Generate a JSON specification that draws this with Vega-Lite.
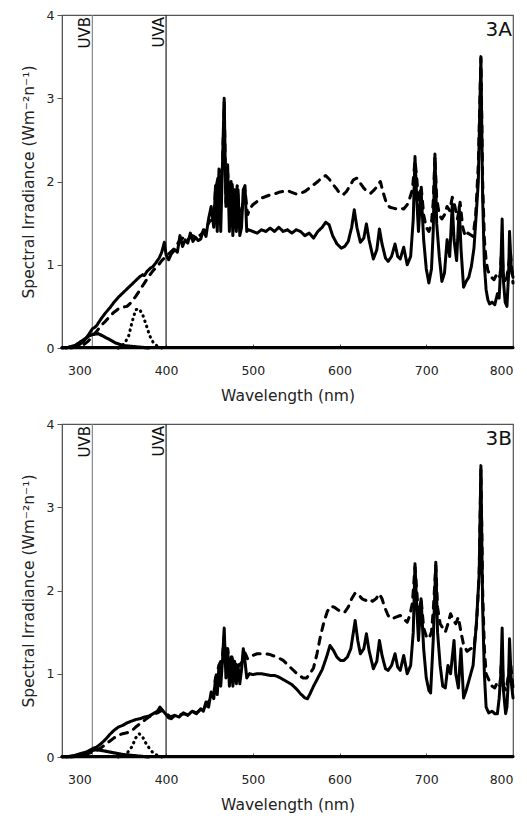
{
  "$schema": "https://vega.github.io/schema/vega-lite/v6.json",
  "padding": {"left": 20, "top": 8, "right": 8, "bottom": 2},
  "spacing": 12,
  "config": {
    "font": "DejaVu Sans",
    "view": {"stroke": "#555", "strokeWidth": 1.2},
    "axis": {"grid": false, "labelFont": "DejaVu Sans", "titleFont": "DejaVu Sans", "labelFontSize": 12.5, "titleFontSize": 15.5, "titleFontWeight": "normal", "labelColor": "#222", "titleColor": "#222", "domainColor": "#555", "tickColor": "#555"}
  },
  "datasets": {
    "A": [
      {"s":"solid","x":280,"y":0},{"s":"solid","x":290,"y":0.01},{"s":"solid","x":300,"y":0.04},{"s":"solid","x":305,"y":0.08},{"s":"solid","x":310,"y":0.15},{"s":"solid","x":315,"y":0.23},{"s":"solid","x":318,"y":0.25},{"s":"solid","x":320,"y":0.27},{"s":"solid","x":325,"y":0.35},{"s":"solid","x":330,"y":0.42},{"s":"solid","x":335,"y":0.48},{"s":"solid","x":340,"y":0.55},{"s":"solid","x":345,"y":0.61},{"s":"solid","x":350,"y":0.66},{"s":"solid","x":355,"y":0.71},{"s":"solid","x":360,"y":0.76},{"s":"solid","x":365,"y":0.81},{"s":"solid","x":370,"y":0.86},{"s":"solid","x":373,"y":0.88},{"s":"solid","x":375,"y":0.87},{"s":"solid","x":378,"y":0.92},{"s":"solid","x":382,"y":0.96},{"s":"solid","x":385,"y":0.98},{"s":"solid","x":388,"y":1.02},{"s":"solid","x":392,"y":1.08},{"s":"solid","x":395,"y":1.15},{"s":"solid","x":398,"y":1.27},{"s":"solid","x":400,"y":1.12},{"s":"solid","x":403,"y":1.06},{"s":"solid","x":406,"y":1.13},{"s":"solid","x":410,"y":1.18},{"s":"solid","x":413,"y":1.15},{"s":"solid","x":416,"y":1.35},{"s":"solid","x":419,"y":1.22},{"s":"solid","x":422,"y":1.30},{"s":"solid","x":425,"y":1.26},{"s":"solid","x":428,"y":1.38},{"s":"solid","x":431,"y":1.28},{"s":"solid","x":434,"y":1.33},{"s":"solid","x":437,"y":1.29},{"s":"solid","x":440,"y":1.31},{"s":"solid","x":443,"y":1.42},{"s":"solid","x":446,"y":1.34},{"s":"solid","x":449,"y":1.55},{"s":"solid","x":452,"y":1.70},{"s":"solid","x":455,"y":1.45},{"s":"solid","x":457,"y":1.95},{"s":"solid","x":459,"y":1.40},{"s":"solid","x":461,"y":2.15},{"s":"solid","x":463,"y":1.40},{"s":"solid","x":465,"y":2.2},{"s":"solid","x":467,"y":3.0},{"s":"solid","x":469,"y":1.7},{"s":"solid","x":471,"y":2.2},{"s":"solid","x":473,"y":1.4},{"s":"solid","x":475,"y":2.0},{"s":"solid","x":477,"y":1.35},{"s":"solid","x":479,"y":1.9},{"s":"solid","x":481,"y":1.4},{"s":"solid","x":483,"y":1.9},{"s":"solid","x":485,"y":1.35},{"s":"solid","x":487,"y":1.45},{"s":"solid","x":489,"y":1.9},{"s":"solid","x":491,"y":1.95},{"s":"solid","x":493,"y":1.40},{"s":"solid","x":495,"y":1.42},{"s":"solid","x":500,"y":1.40},{"s":"solid","x":505,"y":1.38},{"s":"solid","x":510,"y":1.42},{"s":"solid","x":515,"y":1.40},{"s":"solid","x":520,"y":1.44},{"s":"solid","x":525,"y":1.40},{"s":"solid","x":530,"y":1.45},{"s":"solid","x":535,"y":1.40},{"s":"solid","x":540,"y":1.42},{"s":"solid","x":545,"y":1.38},{"s":"solid","x":550,"y":1.42},{"s":"solid","x":555,"y":1.40},{"s":"solid","x":560,"y":1.35},{"s":"solid","x":565,"y":1.38},{"s":"solid","x":570,"y":1.32},{"s":"solid","x":575,"y":1.40},{"s":"solid","x":580,"y":1.45},{"s":"solid","x":584,"y":1.51},{"s":"solid","x":588,"y":1.48},{"s":"solid","x":592,"y":1.35},{"s":"solid","x":597,"y":1.25},{"s":"solid","x":602,"y":1.20},{"s":"solid","x":606,"y":1.22},{"s":"solid","x":610,"y":1.28},{"s":"solid","x":614,"y":1.45},{"s":"solid","x":617,"y":1.66},{"s":"solid","x":620,"y":1.45},{"s":"solid","x":624,"y":1.27},{"s":"solid","x":628,"y":1.32},{"s":"solid","x":631,"y":1.49},{"s":"solid","x":634,"y":1.30},{"s":"solid","x":639,"y":1.07},{"s":"solid","x":643,"y":1.18},{"s":"solid","x":646,"y":1.43},{"s":"solid","x":649,"y":1.25},{"s":"solid","x":653,"y":1.08},{"s":"solid","x":656,"y":1.04},{"s":"solid","x":660,"y":1.10},{"s":"solid","x":664,"y":1.25},{"s":"solid","x":667,"y":1.10},{"s":"solid","x":670,"y":1.07},{"s":"solid","x":674,"y":1.21},{"s":"solid","x":678,"y":1.00},{"s":"solid","x":682,"y":1.10},{"s":"solid","x":685,"y":1.55},{"s":"solid","x":687,"y":2.30},{"s":"solid","x":689,"y":1.80},{"s":"solid","x":691,"y":1.40},{"s":"solid","x":694,"y":1.90},{"s":"solid","x":697,"y":1.30},{"s":"solid","x":700,"y":0.95},{"s":"solid","x":703,"y":0.78},{"s":"solid","x":706,"y":0.95},{"s":"solid","x":708,"y":1.40},{"s":"solid","x":710,"y":2.33},{"s":"solid","x":712,"y":1.50},{"s":"solid","x":715,"y":1.10},{"s":"solid","x":718,"y":0.80},{"s":"solid","x":721,"y":0.90},{"s":"solid","x":724,"y":1.30},{"s":"solid","x":727,"y":1.10},{"s":"solid","x":730,"y":1.73},{"s":"solid","x":732,"y":1.30},{"s":"solid","x":735,"y":1.05},{"s":"solid","x":738,"y":1.70},{"s":"solid","x":740,"y":1.20},{"s":"solid","x":743,"y":0.73},{"s":"solid","x":746,"y":0.80},{"s":"solid","x":749,"y":0.85},{"s":"solid","x":752,"y":0.98},{"s":"solid","x":755,"y":1.20},{"s":"solid","x":758,"y":1.67},{"s":"solid","x":760,"y":2.00},{"s":"solid","x":763,"y":3.50},{"s":"solid","x":765,"y":1.80},{"s":"solid","x":767,"y":1.00},{"s":"solid","x":769,"y":0.70},{"s":"solid","x":771,"y":0.58},{"s":"solid","x":773,"y":0.53},{"s":"solid","x":776,"y":0.55},{"s":"solid","x":779,"y":0.52},{"s":"solid","x":782,"y":0.65},{"s":"solid","x":784,"y":0.60},{"s":"solid","x":786,"y":1.00},{"s":"solid","x":787.5,"y":1.55},{"s":"solid","x":789,"y":0.80},{"s":"solid","x":791,"y":0.55},{"s":"solid","x":793,"y":0.50},{"s":"solid","x":795,"y":0.90},{"s":"solid","x":796,"y":1.40},{"s":"solid","x":798,"y":0.95},{"s":"solid","x":800,"y":0.85},
      {"s":"dashed","x":290,"y":0},{"s":"dashed","x":300,"y":0.02},{"s":"dashed","x":305,"y":0.04},{"s":"dashed","x":310,"y":0.08},{"s":"dashed","x":315,"y":0.14},{"s":"dashed","x":320,"y":0.20},{"s":"dashed","x":325,"y":0.27},{"s":"dashed","x":330,"y":0.32},{"s":"dashed","x":335,"y":0.38},{"s":"dashed","x":340,"y":0.43},{"s":"dashed","x":345,"y":0.47},{"s":"dashed","x":350,"y":0.49},{"s":"dashed","x":355,"y":0.50},{"s":"dashed","x":360,"y":0.55},{"s":"dashed","x":365,"y":0.62},{"s":"dashed","x":370,"y":0.70},{"s":"dashed","x":375,"y":0.78},{"s":"dashed","x":380,"y":0.86},{"s":"dashed","x":385,"y":0.93},{"s":"dashed","x":390,"y":0.98},{"s":"dashed","x":395,"y":1.05},{"s":"dashed","x":400,"y":1.10},{"s":"dashed","x":405,"y":1.15},{"s":"dashed","x":410,"y":1.20},{"s":"dashed","x":415,"y":1.28},{"s":"dashed","x":420,"y":1.33},{"s":"dashed","x":425,"y":1.30},{"s":"dashed","x":430,"y":1.35},{"s":"dashed","x":435,"y":1.33},{"s":"dashed","x":440,"y":1.36},{"s":"dashed","x":445,"y":1.42},{"s":"dashed","x":450,"y":1.52},{"s":"dashed","x":455,"y":1.55},{"s":"dashed","x":457,"y":1.9},{"s":"dashed","x":461,"y":2.1},{"s":"dashed","x":465,"y":2.15},{"s":"dashed","x":467,"y":2.95},{"s":"dashed","x":469,"y":1.75},{"s":"dashed","x":471,"y":2.1},{"s":"dashed","x":474,"y":1.5},{"s":"dashed","x":476,"y":2.0},{"s":"dashed","x":479,"y":1.5},{"s":"dashed","x":482,"y":1.95},{"s":"dashed","x":485,"y":1.5},{"s":"dashed","x":488,"y":1.7},{"s":"dashed","x":491,"y":1.9},{"s":"dashed","x":494,"y":1.6},{"s":"dashed","x":497,"y":1.68},{"s":"dashed","x":500,"y":1.72},{"s":"dashed","x":505,"y":1.76},{"s":"dashed","x":510,"y":1.80},{"s":"dashed","x":515,"y":1.82},{"s":"dashed","x":520,"y":1.84},{"s":"dashed","x":525,"y":1.85},{"s":"dashed","x":530,"y":1.87},{"s":"dashed","x":535,"y":1.88},{"s":"dashed","x":540,"y":1.89},{"s":"dashed","x":545,"y":1.87},{"s":"dashed","x":550,"y":1.85},{"s":"dashed","x":555,"y":1.86},{"s":"dashed","x":560,"y":1.88},{"s":"dashed","x":565,"y":1.92},{"s":"dashed","x":570,"y":1.96},{"s":"dashed","x":575,"y":2.00},{"s":"dashed","x":580,"y":2.05},{"s":"dashed","x":584,"y":2.07},{"s":"dashed","x":588,"y":2.03},{"s":"dashed","x":592,"y":1.97},{"s":"dashed","x":596,"y":1.92},{"s":"dashed","x":600,"y":1.86},{"s":"dashed","x":604,"y":1.84},{"s":"dashed","x":608,"y":1.88},{"s":"dashed","x":612,"y":1.95},{"s":"dashed","x":616,"y":2.02},{"s":"dashed","x":620,"y":2.04},{"s":"dashed","x":624,"y":1.98},{"s":"dashed","x":628,"y":1.92},{"s":"dashed","x":632,"y":1.88},{"s":"dashed","x":636,"y":1.86},{"s":"dashed","x":640,"y":1.90},{"s":"dashed","x":644,"y":1.95},{"s":"dashed","x":647,"y":2.00},{"s":"dashed","x":650,"y":1.88},{"s":"dashed","x":654,"y":1.74},{"s":"dashed","x":658,"y":1.69},{"s":"dashed","x":662,"y":1.68},{"s":"dashed","x":666,"y":1.67},{"s":"dashed","x":670,"y":1.68},{"s":"dashed","x":674,"y":1.67},{"s":"dashed","x":678,"y":1.72},{"s":"dashed","x":681,"y":1.80},{"s":"dashed","x":684,"y":1.90},{"s":"dashed","x":687,"y":2.25},{"s":"dashed","x":689,"y":2.05},{"s":"dashed","x":691,"y":1.75},{"s":"dashed","x":694,"y":1.95},{"s":"dashed","x":697,"y":1.60},{"s":"dashed","x":700,"y":1.45},{"s":"dashed","x":703,"y":1.40},{"s":"dashed","x":706,"y":1.50},{"s":"dashed","x":708,"y":1.75},{"s":"dashed","x":710,"y":2.30},{"s":"dashed","x":712,"y":1.80},{"s":"dashed","x":715,"y":1.60},{"s":"dashed","x":718,"y":1.55},{"s":"dashed","x":721,"y":1.60},{"s":"dashed","x":724,"y":1.70},{"s":"dashed","x":727,"y":1.65},{"s":"dashed","x":730,"y":1.81},{"s":"dashed","x":733,"y":1.70},{"s":"dashed","x":736,"y":1.55},{"s":"dashed","x":739,"y":1.75},{"s":"dashed","x":742,"y":1.45},{"s":"dashed","x":745,"y":1.34},{"s":"dashed","x":748,"y":1.38},{"s":"dashed","x":751,"y":1.36},{"s":"dashed","x":754,"y":1.34},{"s":"dashed","x":757,"y":1.60},{"s":"dashed","x":760,"y":2.2},{"s":"dashed","x":763,"y":3.48},{"s":"dashed","x":765,"y":2.0},{"s":"dashed","x":767,"y":1.30},{"s":"dashed","x":769,"y":1.05},{"s":"dashed","x":771,"y":0.93},{"s":"dashed","x":775,"y":0.85},{"s":"dashed","x":778,"y":0.82},{"s":"dashed","x":782,"y":0.90},{"s":"dashed","x":785,"y":0.85},{"s":"dashed","x":787,"y":1.20},{"s":"dashed","x":789,"y":0.85},{"s":"dashed","x":792,"y":0.78},{"s":"dashed","x":795,"y":1.0},{"s":"dashed","x":797,"y":1.15},{"s":"dashed","x":800,"y":0.78},
      {"s":"dotted","x":345,"y":0},{"s":"dotted","x":352,"y":0.05},{"s":"dotted","x":357,"y":0.15},{"s":"dotted","x":361,"y":0.32},{"s":"dotted","x":365,"y":0.46},{"s":"dotted","x":369,"y":0.47},{"s":"dotted","x":373,"y":0.40},{"s":"dotted","x":377,"y":0.28},{"s":"dotted","x":381,"y":0.15},{"s":"dotted","x":385,"y":0.07},{"s":"dotted","x":390,"y":0.02},{"s":"dotted","x":395,"y":0},
      {"s":"uvb","x":285,"y":0},{"s":"uvb","x":295,"y":0.03},{"s":"uvb","x":305,"y":0.10},{"s":"uvb","x":312,"y":0.15},{"s":"uvb","x":318,"y":0.17},{"s":"uvb","x":322,"y":0.17},{"s":"uvb","x":328,"y":0.14},{"s":"uvb","x":335,"y":0.10},{"s":"uvb","x":342,"y":0.06},{"s":"uvb","x":350,"y":0.03},{"s":"uvb","x":360,"y":0.02},{"s":"uvb","x":370,"y":0.01},{"s":"uvb","x":380,"y":0},
      {"s":"zero","x":280,"y":0.005},{"s":"zero","x":800,"y":0.005}
    ],
    "B": [
      {"s":"solid","x":280,"y":0},{"s":"solid","x":290,"y":0.005},{"s":"solid","x":300,"y":0.02},{"s":"solid","x":305,"y":0.04},{"s":"solid","x":310,"y":0.07},{"s":"solid","x":315,"y":0.10},{"s":"solid","x":320,"y":0.12},{"s":"solid","x":325,"y":0.16},{"s":"solid","x":330,"y":0.21},{"s":"solid","x":335,"y":0.27},{"s":"solid","x":340,"y":0.32},{"s":"solid","x":345,"y":0.36},{"s":"solid","x":350,"y":0.38},{"s":"solid","x":355,"y":0.41},{"s":"solid","x":360,"y":0.43},{"s":"solid","x":365,"y":0.45},{"s":"solid","x":370,"y":0.46},{"s":"solid","x":375,"y":0.48},{"s":"solid","x":380,"y":0.49},{"s":"solid","x":385,"y":0.52},{"s":"solid","x":390,"y":0.55},{"s":"solid","x":393,"y":0.60},{"s":"solid","x":396,"y":0.56},{"s":"solid","x":400,"y":0.51},{"s":"solid","x":403,"y":0.47},{"s":"solid","x":406,"y":0.46},{"s":"solid","x":410,"y":0.50},{"s":"solid","x":415,"y":0.48},{"s":"solid","x":420,"y":0.53},{"s":"solid","x":425,"y":0.50},{"s":"solid","x":430,"y":0.55},{"s":"solid","x":435,"y":0.52},{"s":"solid","x":440,"y":0.58},{"s":"solid","x":443,"y":0.55},{"s":"solid","x":446,"y":0.66},{"s":"solid","x":449,"y":0.60},{"s":"solid","x":452,"y":0.78},{"s":"solid","x":455,"y":0.70},{"s":"solid","x":457,"y":0.95},{"s":"solid","x":459,"y":0.75},{"s":"solid","x":461,"y":1.10},{"s":"solid","x":463,"y":0.85},{"s":"solid","x":465,"y":1.15},{"s":"solid","x":467,"y":1.55},{"s":"solid","x":469,"y":0.95},{"s":"solid","x":471,"y":1.30},{"s":"solid","x":473,"y":0.85},{"s":"solid","x":475,"y":1.20},{"s":"solid","x":477,"y":0.85},{"s":"solid","x":479,"y":1.15},{"s":"solid","x":481,"y":0.88},{"s":"solid","x":483,"y":1.10},{"s":"solid","x":485,"y":0.88},{"s":"solid","x":487,"y":1.05},{"s":"solid","x":489,"y":1.30},{"s":"solid","x":491,"y":1.15},{"s":"solid","x":493,"y":0.95},{"s":"solid","x":496,"y":1.00},{"s":"solid","x":500,"y":0.99},{"s":"solid","x":505,"y":1.00},{"s":"solid","x":510,"y":1.00},{"s":"solid","x":515,"y":0.99},{"s":"solid","x":520,"y":0.98},{"s":"solid","x":525,"y":0.98},{"s":"solid","x":530,"y":0.96},{"s":"solid","x":535,"y":0.93},{"s":"solid","x":540,"y":0.90},{"s":"solid","x":545,"y":0.87},{"s":"solid","x":550,"y":0.82},{"s":"solid","x":555,"y":0.76},{"s":"solid","x":560,"y":0.71},{"s":"solid","x":563,"y":0.70},{"s":"solid","x":566,"y":0.76},{"s":"solid","x":570,"y":0.85},{"s":"solid","x":575,"y":0.95},{"s":"solid","x":580,"y":1.05},{"s":"solid","x":585,"y":1.20},{"s":"solid","x":589,"y":1.34},{"s":"solid","x":593,"y":1.28},{"s":"solid","x":597,"y":1.20},{"s":"solid","x":601,"y":1.16},{"s":"solid","x":605,"y":1.16},{"s":"solid","x":609,"y":1.20},{"s":"solid","x":613,"y":1.30},{"s":"solid","x":616,"y":1.50},{"s":"solid","x":618,"y":1.64},{"s":"solid","x":621,"y":1.40},{"s":"solid","x":624,"y":1.24},{"s":"solid","x":628,"y":1.30},{"s":"solid","x":631,"y":1.48},{"s":"solid","x":634,"y":1.28},{"s":"solid","x":639,"y":1.06},{"s":"solid","x":643,"y":1.15},{"s":"solid","x":646,"y":1.40},{"s":"solid","x":649,"y":1.22},{"s":"solid","x":653,"y":1.06},{"s":"solid","x":656,"y":1.04},{"s":"solid","x":660,"y":1.10},{"s":"solid","x":664,"y":1.24},{"s":"solid","x":667,"y":1.08},{"s":"solid","x":670,"y":1.04},{"s":"solid","x":674,"y":1.22},{"s":"solid","x":678,"y":1.00},{"s":"solid","x":682,"y":1.10},{"s":"solid","x":685,"y":1.50},{"s":"solid","x":687,"y":2.32},{"s":"solid","x":689,"y":1.80},{"s":"solid","x":691,"y":1.40},{"s":"solid","x":694,"y":1.90},{"s":"solid","x":697,"y":1.30},{"s":"solid","x":700,"y":0.95},{"s":"solid","x":703,"y":0.80},{"s":"solid","x":705,"y":0.77},{"s":"solid","x":708,"y":1.40},{"s":"solid","x":711,"y":2.34},{"s":"solid","x":713,"y":1.50},{"s":"solid","x":716,"y":1.10},{"s":"solid","x":719,"y":0.85},{"s":"solid","x":722,"y":0.83},{"s":"solid","x":725,"y":1.10},{"s":"solid","x":728,"y":1.00},{"s":"solid","x":732,"y":1.40},{"s":"solid","x":734,"y":1.00},{"s":"solid","x":737,"y":0.83},{"s":"solid","x":740,"y":1.30},{"s":"solid","x":743,"y":0.71},{"s":"solid","x":746,"y":0.80},{"s":"solid","x":750,"y":0.95},{"s":"solid","x":754,"y":1.10},{"s":"solid","x":758,"y":1.64},{"s":"solid","x":761,"y":2.20},{"s":"solid","x":763,"y":3.50},{"s":"solid","x":765,"y":1.80},{"s":"solid","x":767,"y":1.00},{"s":"solid","x":769,"y":0.60},{"s":"solid","x":772,"y":0.53},{"s":"solid","x":776,"y":0.55},{"s":"solid","x":779,"y":0.52},{"s":"solid","x":782,"y":0.52},{"s":"solid","x":784,"y":0.70},{"s":"solid","x":786,"y":1.00},{"s":"solid","x":787.5,"y":1.55},{"s":"solid","x":789,"y":0.80},{"s":"solid","x":791.5,"y":0.52},{"s":"solid","x":793,"y":0.60},{"s":"solid","x":795,"y":1.00},{"s":"solid","x":796,"y":1.42},{"s":"solid","x":798,"y":0.90},{"s":"solid","x":800,"y":0.71},
      {"s":"dashed","x":290,"y":0},{"s":"dashed","x":300,"y":0.01},{"s":"dashed","x":305,"y":0.02},{"s":"dashed","x":310,"y":0.04},{"s":"dashed","x":315,"y":0.06},{"s":"dashed","x":320,"y":0.08},{"s":"dashed","x":325,"y":0.11},{"s":"dashed","x":330,"y":0.15},{"s":"dashed","x":335,"y":0.19},{"s":"dashed","x":340,"y":0.23},{"s":"dashed","x":345,"y":0.26},{"s":"dashed","x":350,"y":0.28},{"s":"dashed","x":355,"y":0.29},{"s":"dashed","x":360,"y":0.31},{"s":"dashed","x":365,"y":0.36},{"s":"dashed","x":370,"y":0.40},{"s":"dashed","x":375,"y":0.44},{"s":"dashed","x":380,"y":0.48},{"s":"dashed","x":385,"y":0.51},{"s":"dashed","x":390,"y":0.53},{"s":"dashed","x":395,"y":0.56},{"s":"dashed","x":400,"y":0.53},{"s":"dashed","x":405,"y":0.48},{"s":"dashed","x":410,"y":0.50},{"s":"dashed","x":415,"y":0.50},{"s":"dashed","x":420,"y":0.52},{"s":"dashed","x":425,"y":0.51},{"s":"dashed","x":430,"y":0.55},{"s":"dashed","x":435,"y":0.53},{"s":"dashed","x":440,"y":0.57},{"s":"dashed","x":445,"y":0.60},{"s":"dashed","x":450,"y":0.68},{"s":"dashed","x":455,"y":0.75},{"s":"dashed","x":457,"y":0.95},{"s":"dashed","x":461,"y":1.10},{"s":"dashed","x":465,"y":1.20},{"s":"dashed","x":467,"y":1.45},{"s":"dashed","x":469,"y":1.05},{"s":"dashed","x":471,"y":1.30},{"s":"dashed","x":474,"y":1.00},{"s":"dashed","x":476,"y":1.20},{"s":"dashed","x":479,"y":1.05},{"s":"dashed","x":482,"y":1.15},{"s":"dashed","x":485,"y":1.10},{"s":"dashed","x":488,"y":1.15},{"s":"dashed","x":491,"y":1.25},{"s":"dashed","x":494,"y":1.18},{"s":"dashed","x":497,"y":1.20},{"s":"dashed","x":500,"y":1.22},{"s":"dashed","x":505,"y":1.24},{"s":"dashed","x":510,"y":1.24},{"s":"dashed","x":515,"y":1.24},{"s":"dashed","x":520,"y":1.23},{"s":"dashed","x":525,"y":1.21},{"s":"dashed","x":530,"y":1.19},{"s":"dashed","x":535,"y":1.16},{"s":"dashed","x":540,"y":1.11},{"s":"dashed","x":545,"y":1.06},{"s":"dashed","x":550,"y":1.01},{"s":"dashed","x":555,"y":0.97},{"s":"dashed","x":558,"y":0.95},{"s":"dashed","x":562,"y":0.95},{"s":"dashed","x":566,"y":1.00},{"s":"dashed","x":570,"y":1.07},{"s":"dashed","x":574,"y":1.24},{"s":"dashed","x":578,"y":1.45},{"s":"dashed","x":582,"y":1.62},{"s":"dashed","x":586,"y":1.75},{"s":"dashed","x":590,"y":1.81},{"s":"dashed","x":594,"y":1.80},{"s":"dashed","x":598,"y":1.77},{"s":"dashed","x":602,"y":1.74},{"s":"dashed","x":606,"y":1.74},{"s":"dashed","x":610,"y":1.80},{"s":"dashed","x":614,"y":1.90},{"s":"dashed","x":618,"y":1.97},{"s":"dashed","x":622,"y":1.95},{"s":"dashed","x":626,"y":1.90},{"s":"dashed","x":630,"y":1.88},{"s":"dashed","x":634,"y":1.90},{"s":"dashed","x":638,"y":1.87},{"s":"dashed","x":642,"y":1.90},{"s":"dashed","x":646,"y":1.96},{"s":"dashed","x":649,"y":1.90},{"s":"dashed","x":652,"y":1.80},{"s":"dashed","x":656,"y":1.70},{"s":"dashed","x":660,"y":1.66},{"s":"dashed","x":665,"y":1.68},{"s":"dashed","x":670,"y":1.70},{"s":"dashed","x":674,"y":1.66},{"s":"dashed","x":678,"y":1.62},{"s":"dashed","x":681,"y":1.70},{"s":"dashed","x":684,"y":1.85},{"s":"dashed","x":687,"y":2.28},{"s":"dashed","x":689,"y":2.00},{"s":"dashed","x":691,"y":1.70},{"s":"dashed","x":694,"y":1.90},{"s":"dashed","x":697,"y":1.55},{"s":"dashed","x":700,"y":1.45},{"s":"dashed","x":703,"y":1.42},{"s":"dashed","x":706,"y":1.50},{"s":"dashed","x":708,"y":1.75},{"s":"dashed","x":711,"y":2.30},{"s":"dashed","x":713,"y":1.80},{"s":"dashed","x":716,"y":1.60},{"s":"dashed","x":719,"y":1.55},{"s":"dashed","x":722,"y":1.50},{"s":"dashed","x":725,"y":1.60},{"s":"dashed","x":728,"y":1.72},{"s":"dashed","x":731,"y":1.65},{"s":"dashed","x":734,"y":1.60},{"s":"dashed","x":737,"y":1.68},{"s":"dashed","x":740,"y":1.50},{"s":"dashed","x":743,"y":1.35},{"s":"dashed","x":747,"y":1.27},{"s":"dashed","x":751,"y":1.30},{"s":"dashed","x":755,"y":1.31},{"s":"dashed","x":758,"y":1.60},{"s":"dashed","x":761,"y":2.2},{"s":"dashed","x":763,"y":3.45},{"s":"dashed","x":765,"y":2.0},{"s":"dashed","x":767,"y":1.30},{"s":"dashed","x":769,"y":1.00},{"s":"dashed","x":772,"y":0.93},{"s":"dashed","x":776,"y":0.85},{"s":"dashed","x":779,"y":0.83},{"s":"dashed","x":782,"y":0.90},{"s":"dashed","x":785,"y":0.85},{"s":"dashed","x":787,"y":1.20},{"s":"dashed","x":789,"y":0.85},{"s":"dashed","x":792,"y":0.80},{"s":"dashed","x":795,"y":1.0},{"s":"dashed","x":797,"y":1.15},{"s":"dashed","x":800,"y":0.83},
      {"s":"dotted","x":345,"y":0},{"s":"dotted","x":352,"y":0.02},{"s":"dotted","x":357,"y":0.07},{"s":"dotted","x":361,"y":0.13},{"s":"dotted","x":365,"y":0.23},{"s":"dotted","x":369,"y":0.28},{"s":"dotted","x":373,"y":0.24},{"s":"dotted","x":377,"y":0.16},{"s":"dotted","x":381,"y":0.10},{"s":"dotted","x":385,"y":0.05},{"s":"dotted","x":390,"y":0.02},{"s":"dotted","x":395,"y":0},
      {"s":"uvb","x":285,"y":0},{"s":"uvb","x":295,"y":0.02},{"s":"uvb","x":305,"y":0.05},{"s":"uvb","x":312,"y":0.07},{"s":"uvb","x":318,"y":0.085},{"s":"uvb","x":322,"y":0.085},{"s":"uvb","x":330,"y":0.07},{"s":"uvb","x":340,"y":0.05},{"s":"uvb","x":350,"y":0.03},{"s":"uvb","x":360,"y":0.02},{"s":"uvb","x":370,"y":0.01},{"s":"uvb","x":380,"y":0},
      {"s":"zero","x":280,"y":0.005},{"s":"zero","x":800,"y":0.005}
    ],
    "bands": [{"x":315,"y":4,"t":"UVB"},{"x":400,"y":4,"t":"UVA"}],
    "labA": [{"x":800,"y":4,"t":"3A"}],
    "labB": [{"x":800,"y":4,"t":"3B"}]
  },
  "vconcat": [
    {
      "width": 451, "height": 333,
      "encoding": {
        "x": {"field": "x", "type": "quantitative", "scale": {"domain": [280, 800], "nice": false, "zero": false}, "axis": {"values": [300,400,500,600,700,800], "title": "Wavelength (nm)", "tickSize": -4, "labelPadding": 20, "titlePadding": 12}},
        "y": {"field": "y", "type": "quantitative", "scale": {"domain": [0, 4], "nice": false}, "axis": {"values": [0,1,2,3,4], "title": "Spectral Irradiance (Wm⁻²n⁻¹)", "tickSize": 5, "labelPadding": 3, "titlePadding": 10}}
      },
      "layer": [
        {"data": {"name": "bands"}, "mark": {"type": "rule", "strokeWidth": 1.2}, "encoding": {"y": null, "color": {"field": "t", "type": "nominal", "scale": {"domain": ["UVB","UVA"], "range": ["#888888","#222222"]}, "legend": null}}},
        {"data": {"name": "A"}, "mark": {"type": "line", "strokeCap": "round", "strokeJoin": "round", "color": "#000"}, "encoding": {
          "detail": {"field": "s"},
          "strokeDash": {"field": "s", "type": "nominal", "scale": {"domain": ["solid","dashed","dotted","uvb","zero"], "range": [[1,0],[7,7],[0.5,5],[1,0],[1,0]]}, "legend": null},
          "strokeWidth": {"field": "s", "type": "nominal", "scale": {"domain": ["solid","dashed","dotted","uvb","zero"], "range": [3,3.2,3.2,2.6,3.5]}, "legend": null}
        }},
        {"data": {"name": "bands"}, "mark": {"type": "text", "angle": 270, "align": "right", "baseline": "alphabetic", "dx": -2, "dy": -2, "fontSize": 15, "color": "#111"}, "encoding": {"text": {"field": "t"}}},
        {"data": {"name": "labA"}, "mark": {"type": "text", "align": "right", "baseline": "top", "dy": 5, "dx": -1, "fontSize": 20, "color": "#111"}, "encoding": {"text": {"field": "t"}}}
      ]
    },
    {
      "width": 451, "height": 333,
      "encoding": {
        "x": {"field": "x", "type": "quantitative", "scale": {"domain": [280, 800], "nice": false, "zero": false}, "axis": {"values": [300,400,500,600,700,800], "title": "Wavelength (nm)", "tickSize": -4, "labelPadding": 20, "titlePadding": 12}},
        "y": {"field": "y", "type": "quantitative", "scale": {"domain": [0, 4], "nice": false}, "axis": {"values": [0,1,2,3,4], "title": "Spectral Irradiance (Wm⁻²n⁻¹)", "tickSize": 5, "labelPadding": 3, "titlePadding": 10}}
      },
      "layer": [
        {"data": {"name": "bands"}, "mark": {"type": "rule", "strokeWidth": 1.2}, "encoding": {"y": null, "color": {"field": "t", "type": "nominal", "scale": {"domain": ["UVB","UVA"], "range": ["#888888","#222222"]}, "legend": null}}},
        {"data": {"name": "B"}, "mark": {"type": "line", "strokeCap": "round", "strokeJoin": "round", "color": "#000"}, "encoding": {
          "detail": {"field": "s"},
          "strokeDash": {"field": "s", "type": "nominal", "scale": {"domain": ["solid","dashed","dotted","uvb","zero"], "range": [[1,0],[7,7],[0.5,5],[1,0],[1,0]]}, "legend": null},
          "strokeWidth": {"field": "s", "type": "nominal", "scale": {"domain": ["solid","dashed","dotted","uvb","zero"], "range": [3,3.2,3.2,2.6,3.5]}, "legend": null}
        }},
        {"data": {"name": "bands"}, "mark": {"type": "text", "angle": 270, "align": "right", "baseline": "alphabetic", "dx": -2, "dy": -2, "fontSize": 15, "color": "#111"}, "encoding": {"text": {"field": "t"}}},
        {"data": {"name": "labB"}, "mark": {"type": "text", "align": "right", "baseline": "top", "dy": 5, "dx": -1, "fontSize": 20, "color": "#111"}, "encoding": {"text": {"field": "t"}}}
      ]
    }
  ]
}
